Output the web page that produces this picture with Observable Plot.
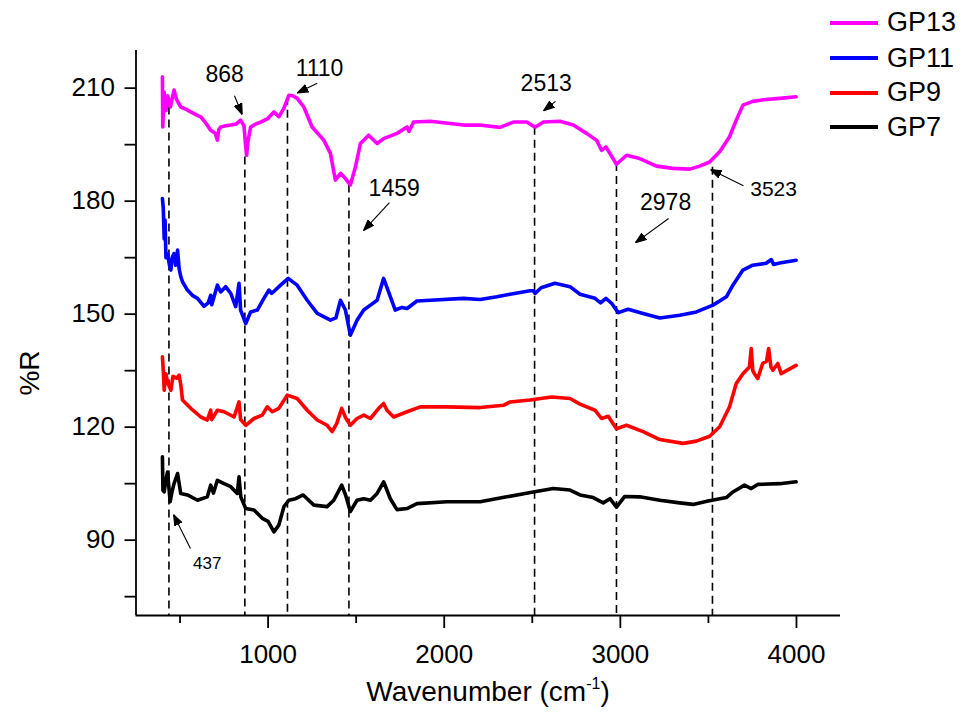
<!DOCTYPE html>
<html><head><meta charset="utf-8">
<script src="https://cdn.jsdelivr.net/npm/d3@7"></script>
<script src="https://cdn.jsdelivr.net/npm/@observablehq/plot@0.6"></script>
<style>
body{margin:0;background:#fff;font-family:"Liberation Sans",Arial,sans-serif;}
#wrap{position:relative;width:967px;height:713px;overflow:hidden;}
#legend{position:absolute;left:830px;top:0;width:137px;height:150px;}
.row{position:absolute;left:0;height:32px;display:flex;align-items:center;white-space:nowrap;}
.sw{width:48px;height:4px;margin-right:9px;}
.lab{font-size:27px;color:#000;}
#xlab{position:absolute;left:288px;width:400px;top:675px;line-height:34px;text-align:center;font-size:28px;color:#000;}
#xlab sup{font-size:16px;vertical-align:12px;line-height:0;}
#ylab{position:absolute;left:30px;top:373px;font-size:28px;color:#000;transform:translate(-50%,-50%) rotate(-90deg);white-space:nowrap;}
</style></head>
<body><div id="wrap"></div>
<script>
// ---- series ----
const seriesNames = ["GP13", "GP11", "GP9", "GP7"];
const seriesColors = ["#ff00ff", "#0000ff", "#ff0000", "#000000"];

const gp13X = [400,402,410,420,430,445,466,480,504,530,561,590,618,650,674,700,712,720,731,760,788,820,844,863,872,878,886,901,930,958,1000,1033,1061,1090,1118,1140,1165,1203,1250,1316,1354,1382,1411,1439,1467,1496,1524,1571,1619,1656,1732,1789,1800,1826,1921,2109,2200,2317,2393,2469,2516,2563,2657,2733,2808,2865,2893,2918,2978,3035,3110,3205,3299,3394,3450,3507,3564,3620,3658,3696,3752,3828,3904,3998];
const gp13Y = [213,199.7,209,204,208,205,209.5,207,205,204.5,203.7,203,202.4,200.5,198.8,198,196.2,199,199.7,200,200.2,200.5,201.5,200,195,192.2,196,199.7,200.5,201,202,203.7,202.4,204.7,208.1,208,207.3,205,199.7,196.2,192.7,185.6,187.4,186,184.3,189.1,195.3,197.5,195.3,196.6,198,199.7,198.5,201,201.2,200.2,200.2,199.6,201,201,199.6,201,201.2,200.2,198,196.2,193.5,194.4,189.8,192.2,191.3,189.3,188.7,188.5,189.3,190.4,193.1,197.1,201.5,205.5,206.5,207,207.3,207.7];

const gp11X = [400,405,410,415,420,429,440,448,455,466,475,486,495,504,514,542,570,599,636,660,674,680,712,731,759,788,816,835,844,873,901,939,976,1005,1020,1071,1114,1165,1222,1279,1354,1385,1411,1439,1467,1505,1543,1581,1619,1656,1684,1722,1760,1789,1845,1921,2109,2204,2299,2374,2487,2506,2516,2550,2629,2714,2771,2856,2888,2918,2950,2988,3044,3129,3224,3337,3432,3526,3602,3639,3696,3752,3828,3857,3870,3904,3998];
const gp11Y = [180.7,178,170,175,165,166,163,161.7,165,166.1,163,167,162,160,158.6,156.4,155,154.2,152.1,153,155,152.5,157.7,155.9,157.3,155.5,152,158.2,151.1,147.5,150.6,151.1,154.2,156.4,155.5,157.7,159.5,157.7,153.7,150.2,148.4,149,153.7,151.1,144.4,148.4,151.1,152.4,153.7,159.5,155.9,151.1,151.8,151.5,153.5,153.7,154.2,153.9,154.6,155.3,156.2,156.2,155.5,157,158.2,157.3,155.3,154.2,153,154.2,152.9,150.4,151.3,150.2,149,149.7,150.6,152.4,154.6,157.7,161.7,163,163.5,164.5,163.2,163.6,164.3];

const gp9X = [400,405,410,420,429,448,460,480,495,505,514,561,618,655,674,680,712,750,807,835,844,873,920,967,995,1024,1061,1109,1165,1222,1279,1335,1364,1390,1418,1440,1467,1505,1543,1581,1628,1656,1675,1713,1789,1864,2015,2204,2336,2374,2487,2516,2610,2714,2771,2856,2893,2931,2978,3035,3129,3224,3356,3432,3507,3564,3620,3658,3696,3733,3743,3752,3761,3780,3808,3830,3842,3855,3866,3894,3913,3998];
const gp9Y = [138.7,135,129.8,134.2,132,129.8,133.5,133,133.8,131,127.2,125,122.7,121.9,124.5,122,124.5,124.1,122.7,126.7,122,120.5,122.3,123.2,125.4,124.1,125,128.5,127.6,124.5,121.9,120.5,118.8,121,125,122.5,120.5,122.3,123.2,122.3,125,126.3,124.5,122.7,124.1,125.4,125.4,125.2,125.8,126.7,127.2,127.4,128,127.6,126.1,124.5,122.3,122.9,119.6,120.5,118.8,116.7,115.7,116.3,117.6,120.1,125.4,131.6,134.2,136,140.9,135,134.2,132.9,136.9,137.5,140.9,136,135.1,136.9,134.2,136.4];

const gp7X = [400,403,410,420,429,444,455,466,486,504,542,599,655,674,690,712,750,788,825,835,845,873,920,967,1000,1033,1061,1090,1118,1156,1199,1260,1335,1373,1418,1440,1467,1505,1543,1581,1619,1656,1694,1732,1789,1845,2015,2204,2355,2506,2619,2714,2771,2846,2903,2941,2978,3025,3110,3224,3337,3413,3498,3602,3639,3705,3743,3780,3904,3998];
const gp7Y = [112.1,103.2,102.8,106,108.1,100.2,103,105,107.7,102.4,102,100.6,101.5,104.6,102.5,105.9,105,104.2,102.4,106.8,101.5,98.4,98,95.8,95,92.2,94,98.9,100.6,101,102,99.3,98.9,100.6,104.6,102,97.6,100.6,101,100.6,102.4,105.5,101,98.1,98.4,99.7,100.2,100.2,101.5,102.8,103.7,103.3,102,101.3,99.9,101,98.8,101.6,101.5,100.6,99.9,99.5,100.4,101.3,102.8,104.6,103.7,104.8,105,105.5];

// ---- annotations ----
const peakX = [437, 868, 1110, 1459, 2513, 2978, 3523];
const peakTop = [205, 191.7, 207.6, 184.3, 199.6, 190, 189];
const peakLabels = ["437", "868", "1110", "1459", "2513", "2978", "3523"];
const labelX = [654, 753, 1292, 1716, 2579, 3257, 3870];
const labelY = [83.7, 213.6, 215.1, 183.3, 211.3, 179.6, 183.1];
const arrowX1 = [559, 809, 1279, 1689, 2632, 3274, 3699];
const arrowY1 = [87.8, 208, 211.3, 179.6, 206.5, 175.4, 184.1];
const arrowX2 = [463, 853, 1165, 1542, 2564, 3086, 3512];
const arrowY2 = [96.8, 203, 208.7, 172.2, 204, 169, 188.4];

// ---- ticks ----
const xMajor = [1000, 2000, 3000, 4000];
const xMinor = [500, 1500, 2500, 3500];
const yMajor = [90, 120, 150, 180, 210];
const yMinor = [75, 105, 135, 165, 195];
const xDomain = [250, 4250];
const yDomain = [70, 220];

// ---- tables ----
const seriesX = [gp13X, gp11X, gp9X, gp7X];
const seriesY = [gp13Y, gp11Y, gp9Y, gp7Y];
const spectra = seriesNames.flatMap((name, s) => seriesX[s].map((x, i) => ({series: name, x, y: seriesY[s][i]})));
const peaks = peakX.map((x, i) => ({x, top: peakTop[i], label: peakLabels[i], lx: labelX[i], ly: labelY[i],
  x1: arrowX1[i], y1: arrowY1[i], x2: arrowX2[i], y2: arrowY2[i]}));
const labelSize = {"437": 17, "3523": 21};

function headMarker(color, context) {
  const ns = "http://www.w3.org/2000/svg";
  const doc = (context && context.document) || document;
  const m = doc.createElementNS(ns, "marker");
  m.setAttribute("viewBox", "-11 -4.5 11 9");
  m.setAttribute("markerWidth", 11);
  m.setAttribute("markerHeight", 9);
  m.setAttribute("markerUnits", "userSpaceOnUse");
  m.setAttribute("orient", "auto");
  m.setAttribute("refX", 0);
  m.setAttribute("refY", 0);
  const p = doc.createElementNS(ns, "path");
  p.setAttribute("d", "M-11,-4L0,0L-11,4Z");
  p.setAttribute("fill", color);
  m.appendChild(p);
  return m;
}

function build(marker) {
  return Plot.plot({
    width: 967, height: 713,
    marginLeft: 135.5, marginRight: 127, marginTop: 50, marginBottom: 98,
    style: {fontFamily: "'Liberation Sans', Arial, sans-serif", background: "white", overflow: "visible"},
    x: {domain: xDomain, axis: null},
    y: {domain: yDomain, axis: null},
    color: {domain: seriesNames, range: seriesColors},
    marks: [
      Plot.ruleX(peaks, {x: "x", y1: "top", y2: yDomain[0], stroke: "black", strokeWidth: 1.6, strokeDasharray: "8,5"}),
      Plot.line(spectra, {x: "x", y: "y", z: "series", stroke: "series", strokeWidth: 3.6, strokeLinejoin: "round"}),
      Plot.link(peaks, {x1: "x1", y1: "y1", x2: "x2", y2: "y2", stroke: "black", strokeWidth: 1.1, markerEnd: marker}),
      Plot.text(peaks, {x: "lx", y: "ly", text: "label", fontSize: d => labelSize[d.label] || 23, fill: "black"}),
      Plot.ruleY([yDomain[0]], {x1: xDomain[0], x2: xDomain[1], stroke: "black", strokeWidth: 1.8}),
      Plot.ruleX([xDomain[0]], {y1: yDomain[0], y2: yDomain[1], stroke: "black", strokeWidth: 1.8}),
      Plot.axisX({ticks: xMajor, tickSize: 13, tickPadding: 16, fontSize: 26, tickFormat: d => String(d), label: null, strokeWidth: 1.8}),
      Plot.axisX({ticks: xMinor, tickSize: 8, tickFormat: () => "", label: null, strokeWidth: 1.8}),
      Plot.axisY({ticks: yMajor, tickSize: 11, tickPadding: 10, fontSize: 26, tickFormat: d => String(d), label: null, strokeWidth: 1.8}),
      Plot.axisY({ticks: yMinor, tickSize: 11, tickFormat: () => "", label: null, strokeWidth: 1.8})
    ]
  });
}

let chart;
try { chart = build(headMarker); } catch (e) { chart = build("arrow"); }
const wrap = document.getElementById("wrap");
wrap.appendChild(chart);

// legend
const legend = document.createElement("div");
legend.id = "legend";
const rowCenters = [22.7, 58.3, 92.7, 127.3];
seriesNames.forEach((name, i) => {
  const row = document.createElement("div");
  row.className = "row";
  row.style.top = (rowCenters[i] - 16) + "px";
  row.innerHTML = `<div class="sw" style="background:${seriesColors[i]}"></div><span class="lab">${name}</span>`;
  legend.appendChild(row);
});
wrap.appendChild(legend);

const xl = document.createElement("div");
xl.id = "xlab";
xl.innerHTML = "Wavenumber (cm<sup>-1</sup>)";
wrap.appendChild(xl);
const yl = document.createElement("div");
yl.id = "ylab";
yl.textContent = "%R";
wrap.appendChild(yl);
</script>
</body></html>
